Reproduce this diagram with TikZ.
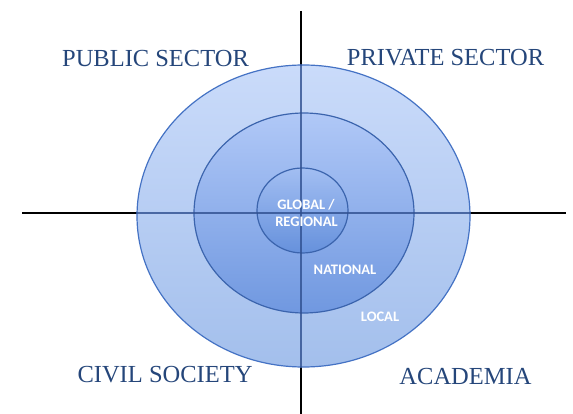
\documentclass[tikz,border=0pt]{standalone}
\usepackage{fontspec}
\setmainfont{Liberation Serif}
\newfontfamily\lblfont{Carlito}
\usetikzlibrary{shapes.geometric}
\definecolor{ringedge}{HTML}{4472C4}
\definecolor{ringedgedark}{HTML}{3B64AD}
\definecolor{outertop}{HTML}{CADBFA}
\definecolor{outerbot}{HTML}{A3BFEC}
\definecolor{midtop}{HTML}{B0C8F7}
\definecolor{midbot}{HTML}{7098E0}
\definecolor{intop}{HTML}{A2BEF2}
\definecolor{inbot}{HTML}{6691DC}
\definecolor{sectorblue}{HTML}{25467A}
\definecolor{axisblue}{HTML}{2F4F8F}
\tikzset{
  ring/.style={ellipse, draw=ringedge, line width=1.2pt, inner sep=0pt},
  axisline/.style={draw=black, line width=1.3pt},
  axisover/.style={draw=axisblue, draw opacity=0.8, line width=1.1pt},
  sector/.style={font=\fontsize{24.5}{28}\selectfont, text=sectorblue, anchor=base, inner sep=0pt},
  level/.style={font=\lblfont\bfseries\fontsize{14.5}{16}\selectfont, text=white, anchor=base, inner sep=0pt}
}
\begin{document}
\begin{tikzpicture}[x=1pt,y=-1pt]
\useasboundingbox (0,0) rectangle (573,414);
% axes
\coordinate (vt) at (301,11);
\coordinate (vb) at (301,414);
\coordinate (hl) at (22,213);
\coordinate (hr) at (566,213);
\path[axisline] (vt) -- (vb);
\path[axisline] (hl) -- (hr);
% rings
\node[ring, minimum width=333pt, minimum height=302pt, top color=outertop, bottom color=outerbot] (outer) at (303.5,216) {};
\node[ring, draw=ringedgedark, minimum width=220pt, minimum height=200pt, top color=midtop, bottom color=midbot] (middle) at (304,213) {};
\node[ring, draw=ringedgedark, minimum width=91pt, minimum height=85pt, top color=intop, bottom color=inbot] (inner) at (302.5,210.5) {};
% axis segments seen through the rings
\path[axisover] (outer.north -| vt) -- (outer.south -| vt);
\path[axisover] (outer.west |- hl) -- (outer.east |- hl);
% sector labels
\node[sector] (pub) at (155.5,67) {PUBLIC SECTOR};
\node[sector] (priv) at (445.5,66) {PRIVATE SECTOR};
\node[sector] (civ) at (165,382) {CIVIL SOCIETY};
\node[sector] (acad) at (465.5,384) {ACADEMIA};
% level labels
\node[level] (glob) at (306,210) {GLOBAL /};
\node[level] (reg) at (306.5,226) {REGIONAL};
\node[level] (nat) at (345,274) {NATIONAL};
\node[level] (loc) at (380,321) {LOCAL};
\end{tikzpicture}
\end{document}
